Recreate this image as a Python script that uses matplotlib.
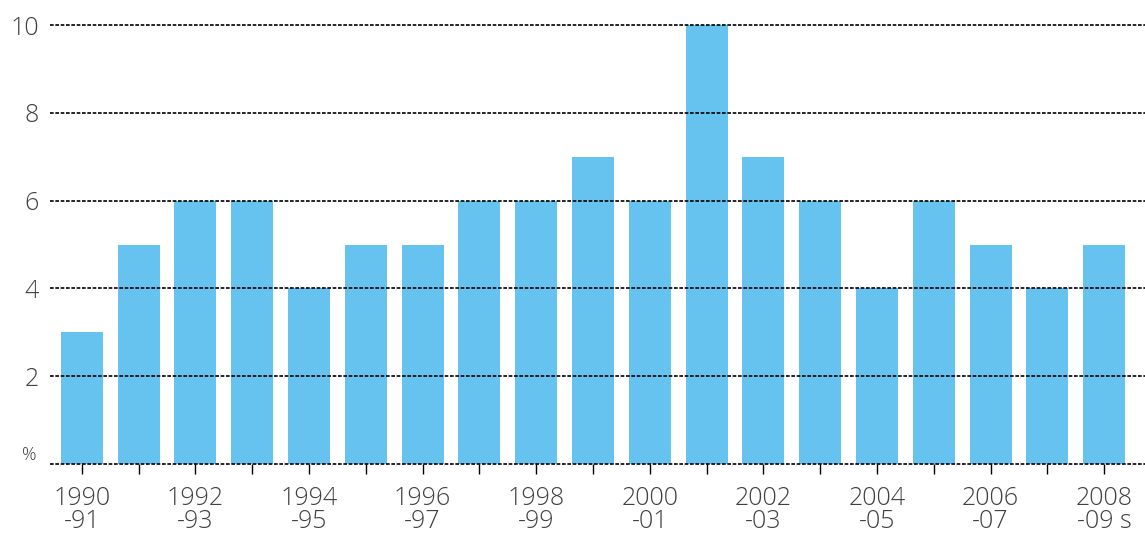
import matplotlib

matplotlib.use("Agg")
import matplotlib.pyplot as plt

# Data
years = [
    "1990-91", "1991-92", "1992-93", "1993-94", "1994-95", "1995-96",
    "1996-97", "1997-98", "1998-99", "1999-00", "2000-01", "2001-02",
    "2002-03", "2003-04", "2004-05", "2005-06", "2006-07", "2007-08",
    "2008-09 s",
]
values = [3, 5, 6, 6, 4, 5, 5, 6, 6, 7, 6, 10, 7, 6, 4, 6, 5, 4, 5]
y_ticks = [2, 4, 6, 8, 10]

bar_color = "#66C2EE"
text_color = "#404040"
plt.rcParams["font.family"] = ["Open Sans", "DejaVu Sans"]
plt.rcParams["font.weight"] = "light"

fig = plt.figure(figsize=(11.45, 5.37), dpi=100)
ax = fig.add_axes([0.0437, 0.136, 0.9563, 0.817])

x = list(range(len(values)))
ax.bar(x, values, width=0.74, color=bar_color, zorder=1)

dash = (0, (2.2, 1.0))
for t in [0] + y_ticks:
    ax.axhline(t, color="black", lw=1.2, ls=dash, zorder=3, clip_on=False)

ax.set_xlim(-0.56, 18.72)
ax.set_ylim(0, 10)

for s in ax.spines.values():
    s.set_visible(False)

ax.set_yticks(y_ticks)
ax.set_yticklabels([str(t) for t in y_ticks], fontsize=18, color=text_color)
ax.tick_params(axis="y", length=0, pad=8)

labels = []
for i, y in enumerate(years):
    if i % 2 == 0:
        a, b = y.split("-", 1)
        labels.append(a + "\n-" + b)
    else:
        labels.append("")
ax.set_xticks(x)
ax.set_xticklabels(labels, fontsize=18, color=text_color, linespacing=0.9)
ax.tick_params(axis="x", length=7, width=1, color="black", pad=9)

ax.text(-0.012, 0.0, "%", transform=ax.transAxes, ha="right", va="bottom",
        fontsize=13, color=text_color)

fig.savefig("out.png", dpi=100)
